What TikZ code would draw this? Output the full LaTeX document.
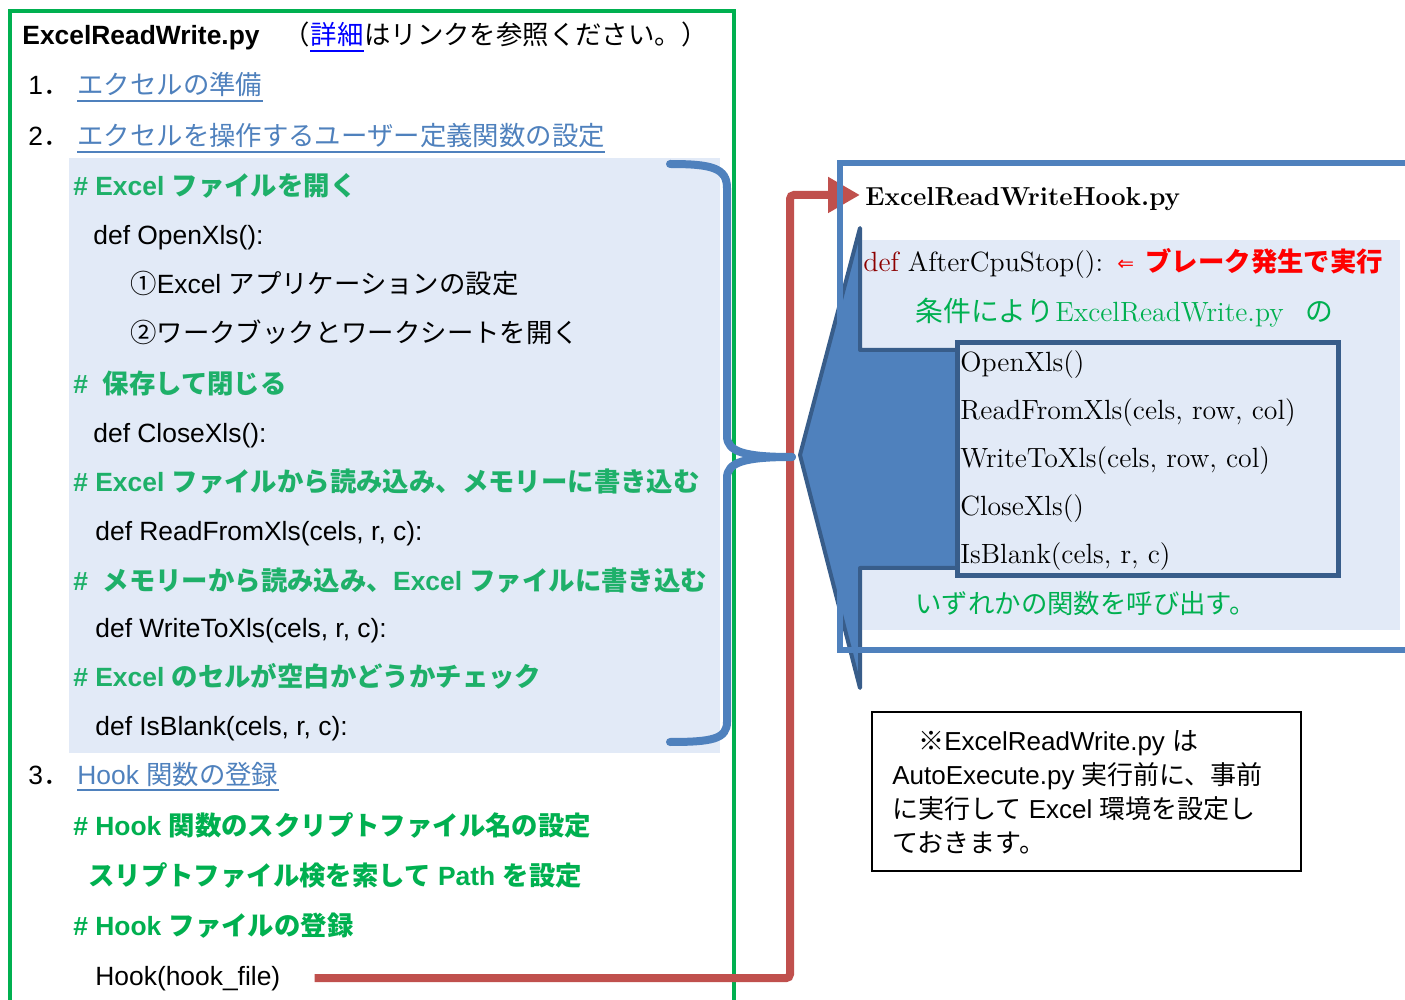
\documentclass[tikz,border=0pt]{standalone}
\usepackage{fontspec}
\usetikzlibrary{arrows.meta,calc}
\newfontfamily\ls{Liberation Sans}
\newfontfamily\jp{Noto Sans CJK JP}
\newfontfamily\dv{DejaVu Sans}
\newcommand\J[1]{{\jp #1}}
\definecolor{gbox}{RGB}{0,176,80}
\definecolor{pgreen}{RGB}{30,176,105}
\definecolor{lgreen}{RGB}{0,176,80}
\definecolor{panel}{RGB}{226,234,247}
\definecolor{linkc}{RGB}{79,129,189}
\definecolor{pblue}{RGB}{0,0,255}
\definecolor{accent}{RGB}{79,129,189}
\definecolor{darkb}{RGB}{56,93,138}
\definecolor{redc}{RGB}{192,80,77}
\definecolor{defred}{RGB}{140,0,0}
\definecolor{brkred}{RGB}{255,0,0}
\tikzset{
 lt/.style={anchor=base west, inner sep=0pt, font=\ls\fontsize{13.2}{16}\selectfont},
 cmt/.style={lt, font=\ls\bfseries\fontsize{13.2}{16}\selectfont, text=pgreen},
 cmtl/.style={cmt, text=lgreen},
 lnk/.style={lt, text=linkc},
 uline/.style={linkc, line width=1pt},
 sr/.style={anchor=base west, inner sep=0pt, font=\rmfamily\fontsize{13.9}{16}\selectfont},
 notetxt/.style={anchor=base west, inner sep=0pt, font=\ls\fontsize{13}{16}\selectfont},
 bracestyle/.style={accent, line width=4pt, line cap=round, line join=round},
 conn/.style={redc, line width=4pt, rounded corners=2pt, -{Triangle[length=16pt,width=17pt]}},
}
\begin{document}
\begin{tikzpicture}[x=0.5pt,y=-0.5pt]
\useasboundingbox (0,0) rectangle (1405,1000);
\fill[white] (0,0) rectangle (1405,1000);
% left green frame
\draw[gbox, line width=2pt] (10,1010) -- (10,11) -- (734,11) -- (734,1010);
\fill[panel] (69,158) rectangle (720,753);
% header
\node[lt, font=\ls\bfseries\fontsize{13.2}{16}\selectfont] (hdr) at (22,45) {ExcelReadWrite.py};
\node[lt] (hdrA) at (283,45) {\J{（}};
\node[lt, text=pblue] (det) at (hdrA.base east) {\J{詳細}};
\node[lt] (hdrB) at (det.base east) {\J{はリンクを参照ください。）}};
\draw[pblue, line width=1pt] ([yshift=-3pt]det.base west) -- ([yshift=-3pt]det.base east);
% items
\node[lt] (n1) at (28,95) {1\J{．}};
\node[lnk] (l1) at (77,95) {\J{エクセルの準備}};
\draw[uline] ([yshift=-3pt]l1.base west) -- ([yshift=-3pt]l1.base east);
\node[lt] (n2) at (28,146) {2\J{．}};
\node[lnk] (l2) at (77,146) {\J{エクセルを操作するユーザー定義関数の設定}};
\draw[uline] ([yshift=-3pt]l2.base west) -- ([yshift=-3pt]l2.base east);
% panel content
\node[cmt] (c1) at (73,196) {\# Excel \J{ファイルを開く}};
\node[lt] (d1) at (93,245) {def OpenXls():};
\node[lt] (s1) at (130,294) {\J{①}Excel \J{アプリケーションの設定}};
\node[lt] (s2) at (130,343) {\J{②ワークブックとワークシートを開く}};
\node[cmt] (c2) at (73,394) {\#\ \ \J{保存して閉じる}};
\node[lt] (d2) at (93,443) {def CloseXls():};
\node[cmt] (c3) at (73,492) {\# Excel \J{ファイルから読み込み、メモリーに書き込む}};
\node[lt] (d3) at (95,541) {def ReadFromXls(cels, r, c):};
\node[cmt] (c4) at (73,590) {\#\ \ \J{メモリーから読み込み、}Excel \J{ファイルに書き込む}};
\node[lt] (d4) at (95,638) {def WriteToXls(cels, r, c):};
\node[cmt] (c5) at (73,686) {\# Excel \J{のセルが空白かどうかチェック}};
\node[lt] (d5) at (95,735) {def IsBlank(cels, r, c):};
% item 3
\node[lt] (n3) at (28,784) {3\J{．}};
\node[lnk] (l3) at (77,784) {Hook \J{関数の登録}};
\draw[uline] ([yshift=-3pt]l3.base west) -- ([yshift=-3pt]l3.base east);
\node[cmtl] (g1) at (73,835) {\# Hook \J{関数のスクリプトファイル名の設定}};
\node[cmtl] (g2) at (88,885) {\J{スリプトファイル検を索して} Path \J{を設定}};
\node[cmtl] (g3) at (73,935) {\# Hook \J{ファイルの登録}};
\node[lt] (hookn) at (95,985) {Hook(hook\_file)};
% right panel
\fill[panel] (860,240) rectangle (1400,630);
\node[anchor=base west, inner sep=0pt, font=\rmfamily\bfseries\fontsize{13}{15}\selectfont] (title) at (865,206) {ExcelReadWriteHook.py};
\coordinate (tip) at ([xshift=-2.5pt,yshift=2.3pt]title.west);
\draw[conn] ([xshift=17pt]hookn.east) -| ([xshift=-35pt]tip) -- (tip);
% callout arrow
\filldraw[fill=accent, draw=darkb, line width=2pt, line join=round] (860,228) -- (860,350) -- (957,350) -- (957,568) -- (860,568) -- (860,688) -- (800,455) -- cycle;
\filldraw[fill=panel, draw=darkb, line width=2.5pt] (957,343) rectangle (1338,576);
\draw[accent, line width=3pt] (840,163) rectangle (1425,650);
% right texts
\node[sr] (hd) at (863,272) {\textcolor{defred}{def} AfterCpuStop():};
\node[anchor=base west, inner sep=0pt, text=brkred, font=\dv\fontsize{10}{12}\selectfont] (arr) at (1117,271) {⇐};
\node[lt, text=brkred, font=\ls\bfseries\fontsize{13.2}{16}\selectfont] (brk) at (1145,272) {\J{ブレーク発生で実行}};
\node[sr, text=lgreen] (cd1) at (915,322) {\J{条件により}};
\node[sr, text=lgreen] (cd2) at (1055,322) {ExcelReadWrite.py};
\node[sr, text=lgreen] (cd3) at (1305,322) {\J{の}};
\node[sr] (f1) at (960,372) {OpenXls()};
\node[sr] (f2) at (960,420) {ReadFromXls(cels, row, col)};
\node[sr] (f3) at (960,468) {WriteToXls(cels, row, col)};
\node[sr] (f4) at (960,516) {CloseXls()};
\node[sr] (f5) at (960,564) {IsBlank(cels, r, c)};
\node[sr, text=lgreen, font=\rmfamily\fontsize{13.2}{16}\selectfont] (call) at (915,613) {\J{いずれかの関数を呼び出す。}};
% note
\draw[black, line width=0.75pt] (872,712) rectangle (1301,871);
\node[notetxt] (nt1) at (892,750) {\J{　※}ExcelReadWrite.py \J{は}};
\node[notetxt] (nt2) at (892,784) {AutoExecute.py \J{実行前に、事前}};
\node[notetxt] (nt3) at (892,818) {\J{に実行して} Excel \J{環境を設定し}};
\node[notetxt] (nt4) at (892,852) {\J{ておきます。}};
% brace
\draw[bracestyle] (670,164) .. controls (712,164) and (727,168) .. (727,188) -- (727,436) .. controls (727,452) and (745,457) .. (792,457);
\draw[bracestyle] (792,457) .. controls (745,457) and (727,462) .. (727,478) -- (727,722) .. controls (727,739) and (712,742) .. (670,742);
\end{tikzpicture}
\end{document}
